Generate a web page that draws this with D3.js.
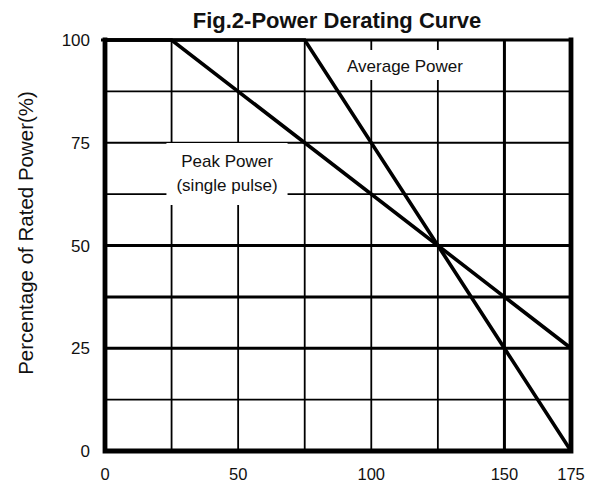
<!DOCTYPE html>
<html>
<head>
<meta charset="utf-8">
<script src="https://cdn.jsdelivr.net/npm/d3@7"></script>
<style>
  body { margin: 0; background: #fff; }
  text { font-family: "Liberation Sans", Arial, sans-serif; fill: #111; }
</style>
</head>
<body>
<div id="chart"></div>
<script>
// chart data
const xTicks = [0, 50, 100, 150, 175];
const yTicks = [0, 25, 50, 75, 100];
const xGrid = [25, 50, 75, 100, 125, 150];
const yGrid = [12.5, 25, 37.5, 50, 62.5, 75, 87.5];
const peakX = [0, 25, 175];
const peakY = [100, 100, 25];
const avgX = [0, 75, 175];
const avgY = [100, 100, 0];

const width = 591, height = 485;
const margin = { top: 40, right: 20, bottom: 34, left: 105 };

const svg = d3.select('#chart')
  .append('svg')
  .attr('width', width)
  .attr('height', height);

const x = d3.scaleLinear().domain([0, 175]).range([margin.left, 571]);
const y = d3.scaleLinear().domain([0, 100]).range([451, margin.top]);

// grid lines (some drawn heavier as in the datasheet)
const thickX = [150];
const thickY = [25, 37.5, 50];

svg.append('g')
  .selectAll('line')
  .data(xGrid)
  .enter()
  .append('line')
  .attr('x1', d => x(d)).attr('x2', d => x(d))
  .attr('y1', y(0)).attr('y2', y(100))
  .attr('stroke', '#000')
  .attr('stroke-width', d => thickX.includes(d) ? 3 : 1.8);

svg.append('g')
  .selectAll('line')
  .data(yGrid)
  .enter()
  .append('line')
  .attr('x1', x(0)).attr('x2', x(175))
  .attr('y1', d => y(d)).attr('y2', d => y(d))
  .attr('stroke', '#000')
  .attr('stroke-width', d => thickY.includes(d) ? 3 : 1.8);

// labels with white boxes that cut the grid
function boxedLabel(lines, cx, baseY, lineH, padX, padTop, padBottom) {
  const g = svg.append('g');
  const bg = g.append('rect').attr('fill', '#fff');
  const t = g.append('text')
    .attr('text-anchor', 'middle')
    .attr('font-size', '17px');
  lines.forEach((s, i) => {
    t.append('tspan').attr('x', cx).attr('y', baseY + i * lineH).text(s);
  });
  const b = t.node().getBBox();
  bg.attr('x', b.x - padX).attr('y', b.y - padTop)
    .attr('width', b.width + 2 * padX)
    .attr('height', b.height + padTop + padBottom);
}

boxedLabel(['Peak Power', '(single pulse)'], 227, 167, 24, 10, 9, 10);
boxedLabel(['Average Power'], 405, 72, 0, 10, 7, 4);

// derating curves
const line = d3.line().x(d => x(d[0])).y(d => y(d[1]));

svg.append('path')
  .datum(d3.zip(peakX, peakY))
  .attr('d', line)
  .attr('fill', 'none')
  .attr('stroke', '#000')
  .attr('stroke-width', 3.6);

svg.append('path')
  .datum(d3.zip(avgX, avgY))
  .attr('d', line)
  .attr('fill', 'none')
  .attr('stroke', '#000')
  .attr('stroke-width', 3.6);

// frame
svg.append('line')
  .attr('x1', x(0) - 4).attr('x2', x(175) + 2)
  .attr('y1', y(100)).attr('y2', y(100))
  .attr('stroke', '#000').attr('stroke-width', 3.2);
svg.append('path')
  .attr('d', `M${x(0)},${y(100)}V${y(0)}H${x(175)}V${y(100)}`)
  .attr('fill', 'none')
  .attr('stroke', '#000')
  .attr('stroke-width', 4.8)
  .attr('stroke-linecap', 'square');

// tick labels
svg.append('g')
  .selectAll('text')
  .data(yTicks)
  .enter()
  .append('text')
  .attr('x', 90)
  .attr('y', d => y(d))
  .attr('dy', '0.36em')
  .attr('text-anchor', 'end')
  .attr('font-size', '17px')
  .text(d => d);

svg.append('g')
  .selectAll('text')
  .data(xTicks)
  .enter()
  .append('text')
  .attr('x', d => x(d))
  .attr('y', 480)
  .attr('text-anchor', 'middle')
  .attr('font-size', '16.5px')
  .text(d => d);

// title
svg.append('text')
  .attr('x', 337)
  .attr('y', 28)
  .attr('text-anchor', 'middle')
  .attr('font-size', '22px')
  .attr('font-weight', 'bold')
  .text('Fig.2-Power Derating Curve');

// y label
svg.append('text')
  .attr('transform', 'rotate(-90)')
  .attr('x', -233)
  .attr('y', 33)
  .attr('text-anchor', 'middle')
  .attr('font-size', '20.5px')
  .text('Percentage of Rated Power(%)');
</script>
</body>
</html>
